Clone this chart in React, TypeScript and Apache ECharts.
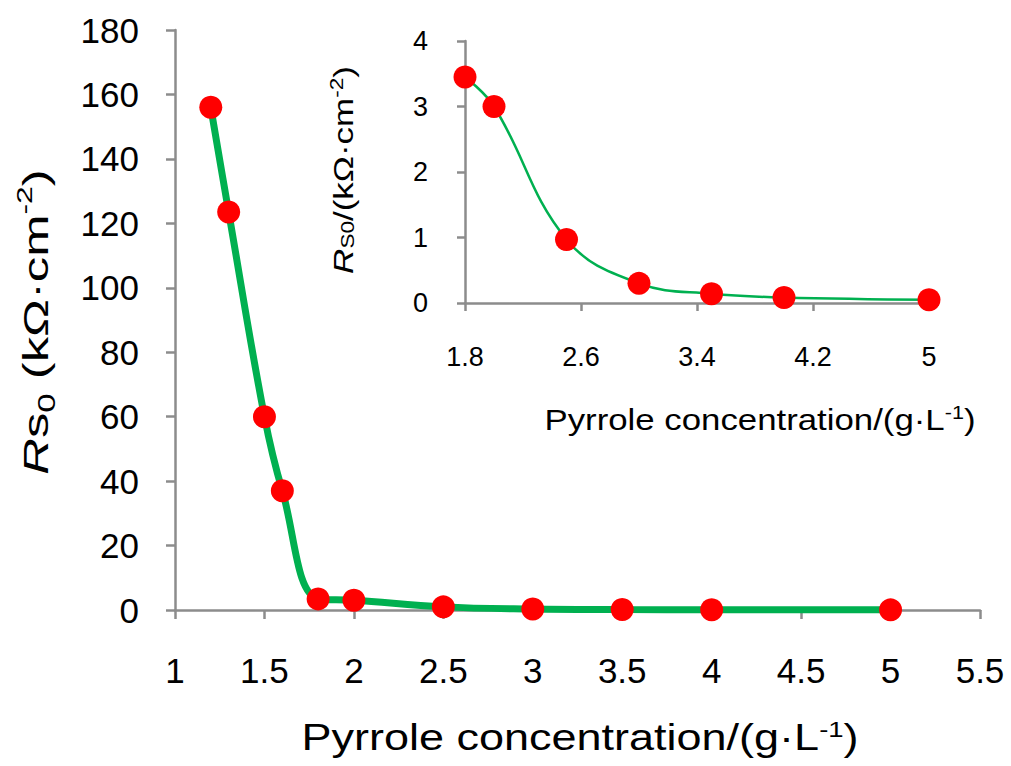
import React, { useEffect, useRef } from "react";
import * as echarts from "echarts";

const mainX = [1.2, 1.3, 1.5, 1.6, 1.8, 2, 2.5, 3, 3.5, 4, 5];
const mainY = [156, 123.5, 60, 37, 3.45, 3.0, 0.97, 0.3, 0.14, 0.085, 0.05];
const insetX = [1.8, 2, 2.5, 3, 3.5, 4, 5];
const insetY = [3.45, 3.0, 0.97, 0.3, 0.14, 0.085, 0.05];

const FONT = "'Liberation Sans', Arial, sans-serif";
const AXIS_GRAY = "#8c8c8c";
const GREEN = "#00B050";
const RED = "#FF0000";

export default function App() {
  const ref = useRef<HTMLDivElement>(null);
  useEffect(() => {
    if (!ref.current) return;
    const chart = echarts.init(ref.current, null, { renderer: "svg" });
    const fmt = (v: number) => String(Number(v.toFixed(2)));
    const axisCommon = (fs: number, margin: number, lw: number, tl: number) => ({
      axisLine: { show: true, onZero: false, lineStyle: { color: AXIS_GRAY, width: lw } },
      axisTick: { show: true, inside: false, length: tl, lineStyle: { color: AXIS_GRAY, width: lw } },
      splitLine: { show: false },
      axisLabel: { color: "#000", fontSize: fs, fontFamily: FONT, margin, formatter: fmt },
    });
    const option: any = {
      animation: false,
      backgroundColor: "#fff",
      grid: [
        { left: 175, top: 30, width: 805, height: 580 },
        { left: 465, top: 41, width: 464, height: 262 },
      ],
      xAxis: [
        { type: "value", gridIndex: 0, min: 1, max: 5.5, interval: 0.5, ...axisCommon(35, 43, 2.5, 9) },
        { type: "value", gridIndex: 1, min: 1.8, max: 5, interval: 0.8, ...axisCommon(27, 40, 2.5, 8) },
      ],
      yAxis: [
        { type: "value", gridIndex: 0, min: 0, max: 180, interval: 20, ...axisCommon(35, 36, 2.5, 9) },
        { type: "value", gridIndex: 1, min: 0, max: 4, interval: 1, ...axisCommon(27, 37, 2.5, 8) },
      ],
      series: [
        {
          type: "line",
          xAxisIndex: 0,
          yAxisIndex: 0,
          data: mainX.map((x, i) => [x, mainY[i]]),
          smooth: 0.4,
          lineStyle: { color: GREEN, width: 7 },
          symbol: "circle",
          symbolSize: 23,
          itemStyle: { color: RED },
          clip: false,
        },
        {
          type: "line",
          xAxisIndex: 1,
          yAxisIndex: 1,
          data: insetX.map((x, i) => [x, insetY[i]]),
          smooth: 0.4,
          lineStyle: { color: GREEN, width: 2.5 },
          symbol: "circle",
          symbolSize: 23,
          itemStyle: { color: RED },
          clip: false,
        },
      ],
      graphic: [
        {
          type: "text",
          x: 36,
          y: 322,
          rotation: Math.PI / 2,
          scaleX: 1.45,
          style: {
            text: "{i|R}{n|s}{sub|0}{n| (kΩ·cm}{sup|-2}{n|)}",
            align: "center",
            verticalAlign: "middle",
            fill: "#000",
            fontFamily: FONT,
            rich: {
              i: { fontSize: 35, fontStyle: "italic", fontFamily: FONT, lineHeight: 46, verticalAlign: "middle" },
              n: { fontSize: 35, fontFamily: FONT, lineHeight: 46, verticalAlign: "middle" },
              sub: { fontSize: 24, fontFamily: FONT, lineHeight: 16, verticalAlign: "bottom" },
              sup: { fontSize: 22, fontFamily: FONT, lineHeight: 24, verticalAlign: "top" },
            },
          },
        },
        {
          type: "text",
          x: 580,
          y: 738,
          scaleX: 1.25,
          style: {
            text: "{n|Pyrrole concentration/(g·L}{sup|-1}{n|)}",
            align: "center",
            verticalAlign: "middle",
            fill: "#000",
            fontFamily: FONT,
            rich: {
              n: { fontSize: 36, fontFamily: FONT, lineHeight: 44, verticalAlign: "middle" },
              sup: { fontSize: 22, fontFamily: FONT, lineHeight: 44, verticalAlign: "top", padding: [2, 0, 0, 0] },
            },
          },
        },
        {
          type: "text",
          x: 343,
          y: 170,
          rotation: Math.PI / 2,
          scaleX: 1.25,
          style: {
            text: "{i|R}{sub|S0}{n|/(kΩ·cm}{sup|-2}{n|)}",
            align: "center",
            verticalAlign: "middle",
            fill: "#000",
            fontFamily: FONT,
            rich: {
              i: { fontSize: 28, fontStyle: "italic", fontFamily: FONT, lineHeight: 36, verticalAlign: "middle" },
              n: { fontSize: 28, fontFamily: FONT, lineHeight: 36, verticalAlign: "middle" },
              sub: { fontSize: 18, fontFamily: FONT, lineHeight: 36, verticalAlign: "bottom", padding: [0, 0, 4, 0] },
              sup: { fontSize: 18, fontFamily: FONT, lineHeight: 36, verticalAlign: "top", padding: [3, 0, 0, 0] },
            },
          },
        },
        {
          type: "text",
          x: 760,
          y: 420,
          scaleX: 1.2,
          style: {
            text: "{n|Pyrrole concentration/(g·L}{sup|-1}{n|)}",
            align: "center",
            verticalAlign: "middle",
            fill: "#000",
            fontFamily: FONT,
            rich: {
              n: { fontSize: 29, fontFamily: FONT, lineHeight: 36, verticalAlign: "middle" },
              sup: { fontSize: 18, fontFamily: FONT, lineHeight: 36, verticalAlign: "top", padding: [2, 0, 0, 0] },
            },
          },
        },
      ],
    };
    chart.setOption(option);
    return () => chart.dispose();
  }, []);
  return (
    <div
      ref={ref}
      style={{ position: "absolute", left: 0, top: 0, width: 1011, height: 766 }}
    />
  );
}
